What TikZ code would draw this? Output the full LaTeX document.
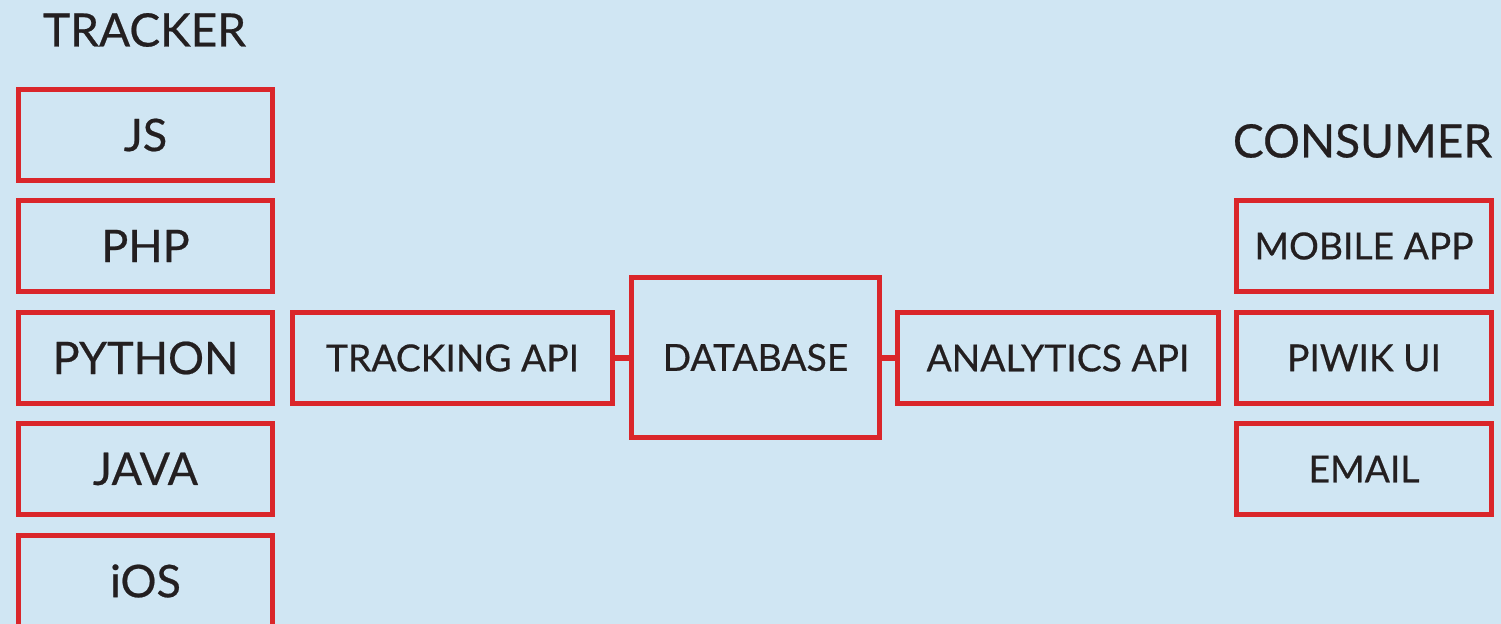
\documentclass[tikz,border=0pt]{standalone}
\usepackage{fontspec}
\setmainfont{Lato}[FakeBold=0.5]
\usepackage{xcolor}
\usepackage{tikz}
\usetikzlibrary{
  calc,
  positioning
}
\definecolor{bgblue}{RGB}{208,230,243}
\definecolor{boxred}{RGB}{218,38,42}
\definecolor{ink}{RGB}{35,31,32}
\tikzset{
  box/.style={
    draw=boxred,
    line width=0.058cm,
    inner sep=0pt,
    minimum height=0.91cm,
    text=ink},
  lang/.style={
    box,
    minimum width=2.54cm,
    font=\fontsize{12.8}{14}\selectfont},
  svc/.style={
    box,
    font=\fontsize{10.6}{12}\selectfont},
  head/.style={
    text=ink,
    inner sep=0pt,
    font=\fontsize{13.1}{15}\selectfont},
  link/.style={
    draw=boxred,
    line width=0.058cm}
  }

\begin{document}
\begin{tikzpicture}
      \fill [bgblue] (0,0) rectangle (15.01,6.24);
      \useasboundingbox (0,0) rectangle (15.01,6.24);
      \node [head] (trk) at (1.445,5.94) {TRACKER};
      \node [lang] (js) at (1.455,4.89) {JS};
      \node [lang] (php) at (1.455,3.78) {PHP};
      \node [lang] (py) at (1.455,2.66) {PYTHON};
      \node [lang] (java) at (1.455,1.55) {JAVA};
      \node [lang] (ios) at (1.455,0.43) {iOS};
      \node [svc, minimum width=3.20cm] (tapi) at (4.525,2.66) {TRACKING API};
      \node [svc, minimum width=2.48cm, minimum height=1.60cm] (db) at (7.555,2.665) {DATABASE};
      \node [svc, minimum width=3.21cm] (aapi) at (10.58,2.66) {ANALYTICS API};
      \node [head] (cons) at (13.625,4.83) {CONSUMER};
      \node [svc, minimum width=2.55cm] (app) at (13.64,3.78) {MOBILE APP};
      \node [svc, minimum width=2.55cm] (ui) at (13.64,2.66) {PIWIK UI};
      \node [svc, minimum width=2.55cm] (mail) at (13.64,1.55) {EMAIL};
      \draw [link] (tapi.east) to (tapi.east -| db.west);
      \draw [link] (db.east |- aapi.west) to (aapi.west);
    \end{tikzpicture}
\end{document}
